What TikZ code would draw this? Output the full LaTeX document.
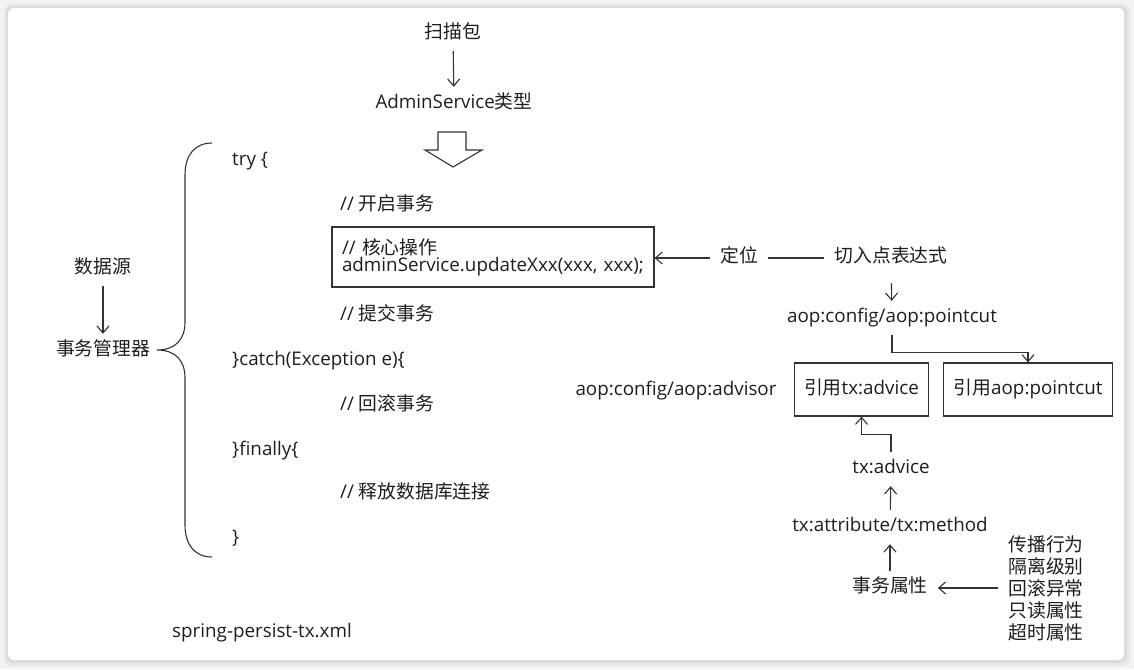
\documentclass[tikz,border=0pt]{standalone}
\usepackage{fontspec}
\setmainfont{Open Sans}
\newfontfamily\zh{Noto Sans CJK SC}
\usetikzlibrary{arrows.meta, calc, positioning}
\definecolor{ink}{HTML}{1E1E1E}
\definecolor{wire}{HTML}{333333}
\definecolor{pagegray}{HTML}{F3F3F3}

\begin{document}
\begin{tikzpicture}[x=1pt, y=-1pt,
    every node/.style={font=\fontsize{18.8}{22}\selectfont, text=ink, inner xsep=10pt, inner ysep=8pt},
    lbl/.style={text height=13.5pt, text depth=4.5pt},
    code/.style={lbl, anchor=west, inner xsep=0pt},
    refbox/.style={draw=wire, line width=1.1pt, lbl, minimum height=53pt},
    arr/.style={draw=wire, line width=1.1pt, -{Straight Barb[length=7pt, width=12pt]}},
    wireline/.style={draw=wire, line width=1.1pt}]

    \useasboundingbox (0,0) rectangle (1134,669);

    % 背景卡片
    \fill[pagegray] (0,0) rectangle (1134,669);
    \fill[black!9, rounded corners=8pt] (4,4) rectangle (1130,666);
    \fill[black!14, rounded corners=7pt] (6,6) rectangle (1127,663);
    \fill[white, rounded corners=6pt] (8,8) rectangle (1124,660);

    % 1. 扫描包
    \node[lbl] (scan) at (453,34) {\zh 扫描包};
    \node[lbl] (admin) at (454,104) {AdminService{\zh 类型}};
    \draw[arr] (scan) -- (admin);

    % 空心箭头
    \draw[wire, line width=1.1pt] (438,132) -- (466,132) -- (466,150) -- (482,150)
        -- (453,167) -- (425,150) -- (438,150) -- cycle;

    % 2. 事务代码
    \node[code] (try) at (232,161) {try \{};
    \node[code] (open) at (340,206) {// {\zh 开启事务}};
    \node[draw=wire, line width=1.1pt, minimum width=322pt, minimum height=60pt,
          align=left, text width=302pt, font=\fontsize{18.8}{18}\selectfont]
        (core) at (493,257) {// {\zh 核心操作}\\[-1pt]adminService.updateXxx(xxx, xxx);};
    \node[code] (commit) at (340,316) {// {\zh 提交事务}};
    \node[code] (catch) at (232,361) {\}catch(Exception e)\{};
    \node[code] (rollback) at (340,406) {// {\zh 回滚事务}};
    \node[code] (finally) at (232,451) {\}finally\{};
    \node[code] (release) at (340,494) {// {\zh 释放数据库连接}};
    \node[code] (close) at (232,539) {\}};

    \node[lbl] (xml) at (262,633) {spring-persist-tx.xml};

    % 大括号
    \draw[wireline] (212,143) .. controls (195,143) and (185,155) .. (185,175)
        -- (185,322) .. controls (185,340) and (175,350) .. (157,350)
        .. controls (175,350) and (185,360) .. (185,378)
        -- (185,525) .. controls (185,545) and (195,557) .. (212,557);

    % 3. 数据源
    \node[lbl] (datasrc) at (103,269) {\zh 数据源};
    \node[lbl] (txmgr) at (103,351) {\zh 事务管理器};
    \draw[arr] (datasrc) -- (txmgr);

    % 4. 切入点
    \node[lbl] (locate) at (739,258) {\zh 定位};
    \node[lbl] (pcexpr) at (891,258) {\zh 切入点表达式};
    \draw[arr] (locate.west) -- (core.east |- locate.west);
    \draw[wireline] (locate) -- (pcexpr);
    \node[lbl] (pointcut) at (892,318) {aop:config/aop:pointcut};
    \draw[arr, shorten <=8pt] (pcexpr) -- (pointcut);

    % 5. advisor
    \node[lbl] (advisor) at (676,391) {aop:config/aop:advisor};
    \node[refbox, minimum width=131pt] (refadvice) at (861.5,389.5) {{\zh 引用}tx:advice};
    \node[refbox, minimum width=166pt] (refpc) at (1028,389.5) {{\zh 引用}aop:pointcut};
    \draw[arr] (pointcut.south) -- ++(0,17) -| (refpc.north);

    % 6. tx:advice
    \node[lbl] (txadvice) at (891,469) {tx:advice};
    \node[lbl] (txattr) at (890,527) {tx:attribute/tx:method};
    \node[lbl] (txprop) at (890,588) {\zh 事务属性};
    \draw[arr] (txadvice.north) -- ++(0,-17) -| (refadvice.south);
    \draw[arr] (txattr) -- (txadvice);
    \draw[arr] (txprop) -- (txattr);

    \node[align=left, font=\fontsize{18.8}{22}\selectfont\zh] (props) at (1046,588)
        {传播行为\\隔离级别\\回滚异常\\只读属性\\超时属性};
    \draw[arr] (props.west) -- (txprop.east);

\end{tikzpicture}
\end{document}
